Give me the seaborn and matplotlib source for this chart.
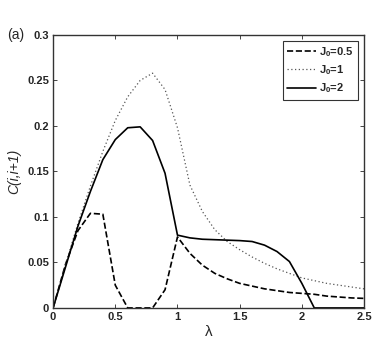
import numpy as np
import pandas as pd
import matplotlib
matplotlib.use("Agg")
import matplotlib.pyplot as plt
import seaborn as sns

lam = [0.0, 0.1, 0.2, 0.3, 0.4, 0.5, 0.6, 0.7, 0.8, 0.9, 1.0, 1.1, 1.2,
       1.3, 1.4, 1.5, 1.6, 1.7, 1.8, 1.9, 2.0, 2.1, 2.2, 2.3, 2.4, 2.5]

c_j05 = [0.0, 0.048, 0.085, 0.104, 0.103, 0.025, 0.0, 0.0, 0.0, 0.02, 0.078,
         0.06, 0.047, 0.038, 0.032, 0.027, 0.024, 0.021, 0.019, 0.017, 0.016,
         0.015, 0.013, 0.012, 0.011, 0.0105]
c_j1 = [0.0, 0.048, 0.093, 0.134, 0.172, 0.206, 0.232, 0.25, 0.258, 0.24,
        0.198, 0.135, 0.106, 0.086, 0.073, 0.064, 0.056, 0.049, 0.043, 0.038,
        0.033, 0.030, 0.027, 0.025, 0.023, 0.021]
c_j2 = [0.0, 0.045, 0.09, 0.128, 0.163, 0.185, 0.198, 0.199, 0.184, 0.148,
        0.080, 0.077, 0.0755, 0.075, 0.0745, 0.074, 0.073, 0.069, 0.062,
        0.051, 0.027, 0.0, 0.0, 0.0, 0.0, 0.0]

labels = [r'J$_\mathbf{0}$=0.5', r'J$_\mathbf{0}$=1', r'J$_\mathbf{0}$=2']
xticks = [0, 0.5, 1, 1.5, 2, 2.5]
yticks = [0, 0.05, 0.1, 0.15, 0.2, 0.25, 0.3]

sns.set_style("white")
plt.rcParams['font.family'] = ['Liberation Sans', 'DejaVu Sans']
plt.rcParams['mathtext.fontset'] = 'custom'
plt.rcParams['mathtext.bf'] = 'Liberation Sans:bold'
plt.rcParams['mathtext.rm'] = 'Liberation Sans'

fig = plt.figure(figsize=(3.82, 3.46), dpi=100)
ax = fig.add_axes([0.139, 0.110, 0.814, 0.789])

styles = ['--', (0, (1, 2)), '-']
widths = [1.2, 0.9, 1.2]
colors = ['black', '#555555', 'black']
for vals, lab, ls, lw, c in zip([c_j05, c_j1, c_j2], labels, styles, widths, colors):
    df = pd.DataFrame({'lam': lam, 'C': vals})
    sns.lineplot(data=df, x='lam', y='C', ax=ax, color=c,
                 linestyle=ls, linewidth=lw, label=lab)

ax.set_xlim(0, 2.5)
ax.set_ylim(0, 0.3)
ax.set_xticks(xticks)
ax.set_xticklabels(['0', '0.5', '1', '1.5', '2', '2.5'])
ax.set_yticks(yticks)
ax.set_yticklabels(['0', '0.05', '0.1', '0.15', '0.2', '0.25', '0.3'])
for t in ax.get_xticklabels() + ax.get_yticklabels():
    t.set_fontweight('bold')
    t.set_fontsize(8)
ax.tick_params(direction='in', length=3, width=0.6, top=True, right=True,
               bottom=True, left=True, pad=3)
for s in ax.spines.values():
    s.set_color('#333333')
    s.set_linewidth(1.0)

ax.set_xlabel('\u03bb', fontsize=11, labelpad=2)
ax.set_ylabel('C(i,i+1)', fontsize=10, style='italic', labelpad=4)
fig.text(0.018, 0.9, '(a)', fontsize=10, va='center')

leg = ax.legend(loc='upper right', fontsize=8, frameon=True, fancybox=False,
                edgecolor='black', handlelength=2.6, borderaxespad=0.5,
                labelspacing=0.4, handletextpad=0.3, borderpad=0.4)
leg.get_frame().set_linewidth(0.8)
for t in leg.get_texts():
    t.set_fontweight('bold')

fig.savefig('out.png', dpi=100)
